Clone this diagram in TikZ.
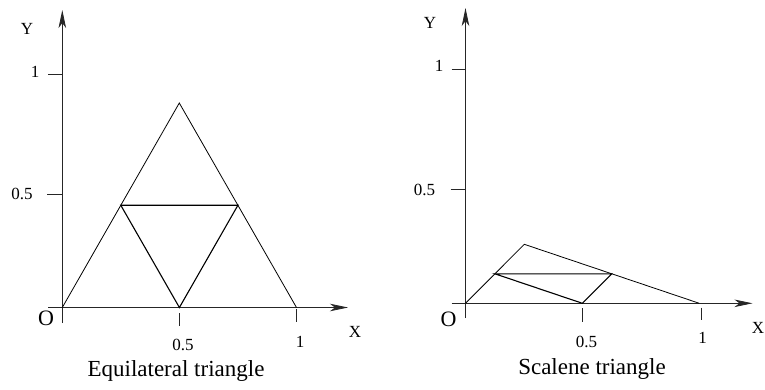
\documentclass[tikz,border=0pt]{standalone}
\usepackage{fontspec}
\setmainfont{Liberation Serif}
\usetikzlibrary{arrows.meta}
\begin{document}
\begin{tikzpicture}[x=1pt,y=-1pt,
  axis/.style={line width=0.8pt,draw=black!85},
  axarrow/.style={axis,-{Stealth[length=18pt,width=7.5pt,inset=5pt]}},
  tick/.style={line width=0.8pt,draw=black!85},
  tri/.style={line width=0.8pt,draw=black},
  inner/.style={line width=1.1pt,draw=black},
  lab/.style={inner sep=0pt,font=\fontsize{17}{17}\selectfont},
  olab/.style={inner sep=0pt,font=\fontsize{22}{22}\selectfont},
  captxt/.style={inner sep=0pt,font=\fontsize{23}{23}\selectfont}]
\useasboundingbox (0,0) rectangle (765,389);
% ---------- left panel ----------
\coordinate (LO) at (62.3,307.5);
\coordinate (LYb) at (62.3,323);
\coordinate (LYt) at (62.3,10);
\coordinate (LXl) at (48,307.5);
\coordinate (LXr) at (348,307.5);
\draw[axarrow] (LYb) -- (LYt);
\draw[axarrow] (LXl) -- (LXr);
\coordinate (LyT1a) at (48,74);    \coordinate (LyT1b) at (62.3,74);
\coordinate (LyT5a) at (47,194.5); \coordinate (LyT5b) at (62.3,194.5);
\draw[tick] (LyT1a) -- (LyT1b);
\draw[tick] (LyT5a) -- (LyT5b);
\coordinate (LxT5a) at (179.3,313); \coordinate (LxT5b) at (179.3,326);
\coordinate (LxT1a) at (296.7,309); \coordinate (LxT1b) at (296.7,322);
\draw[tick] (LxT5a) -- (LxT5b);
\draw[tick] (LxT1a) -- (LxT1b);
\coordinate (LA) at (62.3,307.5);
\coordinate (LB) at (296.5,307.5);
\coordinate (LC) at (179.3,103);
\coordinate (LAC) at (120.8,205.25);
\coordinate (LBC) at (237.9,205.25);
\coordinate (LAB) at (179.4,307.5);
\draw[tri] (LA) -- (LC) -- (LB);
\draw[inner] (LAC) -- (LBC) -- (LAB) -- cycle;
\node[lab] (LYl) at (27,29) {Y};
\node[lab] (Ly1) at (35,71.5) {1};
\node[lab] (Ly5) at (22,194) {0.5};
\node[olab] (LOl) at (46,318) {O};
\node[lab] (LXlab) at (355,332) {X};
\node[lab] (Lx5) at (183,345) {0.5};
\node[lab] (Lx1) at (300,341.5) {1};
\node[captxt] (Lcap) at (176,371) {Equilateral triangle};
% ---------- right panel ----------
\coordinate (RYb) at (465.5,318);
\coordinate (RYt) at (465.5,8);
\coordinate (RXl) at (451.7,303.3);
\coordinate (RXr) at (752.5,303.3);
\draw[axarrow] (RYb) -- (RYt);
\draw[axarrow] (RXl) -- (RXr);
\coordinate (RyT1a) at (451.7,69);    \coordinate (RyT1b) at (465.5,69);
\coordinate (RyT5a) at (450.5,189.3); \coordinate (RyT5b) at (465.5,189.3);
\draw[tick] (RyT1a) -- (RyT1b);
\draw[tick] (RyT5a) -- (RyT5b);
\coordinate (RxT5a) at (582.3,308); \coordinate (RxT5b) at (582.3,321.7);
\coordinate (RxT1a) at (701.7,307.7); \coordinate (RxT1b) at (701.7,320);
\draw[tick] (RxT5a) -- (RxT5b);
\draw[tick] (RxT1a) -- (RxT1b);
\coordinate (RA) at (465.5,303.3);
\coordinate (RB) at (699.3,303.3);
\coordinate (RC) at (524.3,244.3);
\coordinate (RAC) at (494.9,273.8);
\coordinate (RBC) at (611.8,273.8);
\coordinate (RAB) at (582.4,303.3);
\draw[tri] (RA) -- (RC) -- (RB);
\draw[inner] (RAC) -- (RBC) -- (RAB) -- cycle;
\node[lab] (RYl) at (430,23) {Y};
\node[lab] (Ry1) at (439,66) {1};
\node[lab] (Ry5) at (424.5,190) {0.5};
\node[olab] (ROl) at (448.5,319.5) {O};
\node[lab] (RXlab) at (758,328) {X};
\node[lab] (Rx5) at (586.5,342) {0.5};
\node[lab] (Rx1) at (702.5,337.5) {1};
\node[captxt] (Rcap) at (592,369) {Scalene triangle};
\end{tikzpicture}
\end{document}
